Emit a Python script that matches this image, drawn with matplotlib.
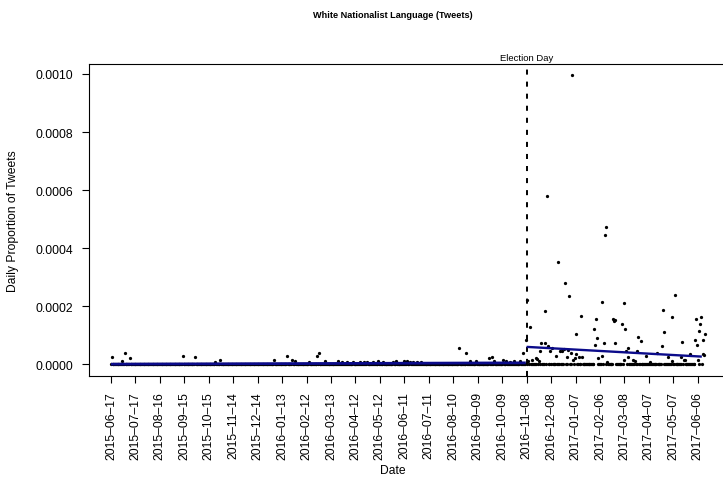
import numpy as np
import pandas as pd
import matplotlib
matplotlib.use("Agg")
import matplotlib.pyplot as plt
import matplotlib.dates as mdates

plt.rcParams['font.family'] = ['Liberation Sans', 'DejaVu Sans']

# daily series: days since the first observation, zero unless listed below
start = pd.Timestamp('2015-06-17')
n_days = 730
election = pd.Timestamp('2016-11-08')

spike_day = [1, 14, 17, 23, 88, 103, 128, 134, 200, 216, 222, 226, 243, 253, 255,
             263, 278, 283, 289, 297, 306, 310, 314, 322, 328, 334, 346, 350, 360,
             363, 367, 371, 375, 380, 427, 436, 440, 448, 464, 467, 470, 481, 485,
             490, 495, 502, 506,
             509, 510, 512, 514, 517, 521, 523, 525, 526, 528, 532, 533, 535, 536,
             539, 541, 546, 548, 551, 554, 556, 557, 560, 561, 562, 564, 566, 567,
             569, 570, 571, 574, 577, 578, 593, 594, 595, 596, 598, 602, 603, 605,
             606, 607, 609, 616, 617, 618, 619, 627, 629, 630, 631, 632, 634, 635,
             641, 643, 646, 647, 650, 656, 661, 670, 676, 677, 679, 683, 688, 689,
             692, 700, 701, 703, 704, 710, 717, 718, 719, 720, 721, 723, 724, 726,
             727, 728, 729]
spike_val = [24, 12, 39, 21, 28, 24, 9, 14, 14, 28, 15, 10, 9, 30, 38,
             12, 10, 8, 9, 7, 9, 8, 8, 9, 10, 8, 9, 10, 12,
             11, 9, 8, 7, 8, 55, 38, 10, 10, 21, 26, 12, 16, 10,
             8, 10, 10, 38,
             83, 222, 11, 128, 16, 20, 18, 12, 45, 73.5, 73.5, 183, 579, 64,
             45, 56, 30, 351, 45, 47, 53, 279, 24, 50, 234, 39, 995, 16,
             21, 103, 35, 24, 165, 24, 120, 65, 155, 90, 20, 28, 213, 73,
             445, 472, 9, 156, 150, 153, 73.5, 139, 210, 16, 120, 45, 55, 24,
             14, 10, 45, 93, 81, 30, 7, 39, 62, 186, 112, 24, 12, 162,
             239, 24, 76, 16, 16, 34, 83, 156, 68, 14, 116, 138, 163, 34,
             83, 31, 103]

# fitted lines before and after election day (value at each end)
fit_pre_day = [0, 509]
fit_pre_val = [0.5, 5.0]
fit_post_day = [510, 725]
fit_post_val = [60.0, 26.5]

scale = 1e-6
dates = pd.date_range(start, periods=n_days, freq='D')
values = np.zeros(n_days)
values[spike_day] = np.array(spike_val) * scale

tick_dates = pd.date_range(start, pd.Timestamp('2017-06-06'), freq='30D')
y_ticks = [0.0, 0.0002, 0.0004, 0.0006, 0.0008, 0.0010]

fig = plt.figure(figsize=(7.23, 4.81), dpi=100)
ax = fig.add_axes([88.5 / 723, 104 / 481, (735 - 88.5) / 723, 312 / 481])

ax.scatter(dates, values, s=5.5, color='black', linewidths=0, zorder=3)
ax.plot(start + pd.to_timedelta(fit_pre_day, unit='D'), np.array(fit_pre_val) * scale,
        color='#0b0b8a', lw=2.0, solid_capstyle='butt', zorder=4)
ax.plot(start + pd.to_timedelta(fit_post_day, unit='D'), np.array(fit_post_val) * scale,
        color='#0b0b8a', lw=1.7, solid_capstyle='butt', zorder=4)
ax.axvline(election, color='black', lw=1.4, linestyle=(0, (2.6, 3.6)), zorder=2)

x0 = mdates.date2num(start)
ax.set_xlim(x0 - 27.6, x0 + 765.7)
ax.set_ylim(-0.0000403, 0.0010344)

ax.set_xticks(tick_dates)
ax.set_xticklabels([d.strftime('%Y-%m-%d').replace('-', '\u2013') for d in tick_dates],
                   rotation=90)
ax.set_yticks(y_ticks)
ax.set_yticklabels(['%.4f' % v for v in y_ticks])
ax.tick_params(axis='both', direction='out', length=5, width=0.8, pad=6,
               labelsize=8.7, colors='black')

for side in ('left', 'bottom', 'top', 'right'):
    ax.spines[side].set_linewidth(0.8)

ax.text(election, 1.005, 'Election Day', transform=ax.get_xaxis_transform(),
        ha='center', va='bottom', fontsize=6.8)

fig.text(393 / 723, 1 - 15 / 481, 'White Nationalist Language (Tweets)',
         ha='center', va='center', fontsize=6.6, fontweight='bold')
fig.text(393 / 723, 1 - 471 / 481, 'Date', ha='center', va='center', fontsize=8.7)
fig.text(13 / 723, 1 - 221 / 481, 'Daily Proportion of Tweets', ha='center',
         va='center', rotation=90, fontsize=8.7)

fig.savefig('out.png', dpi=100)
